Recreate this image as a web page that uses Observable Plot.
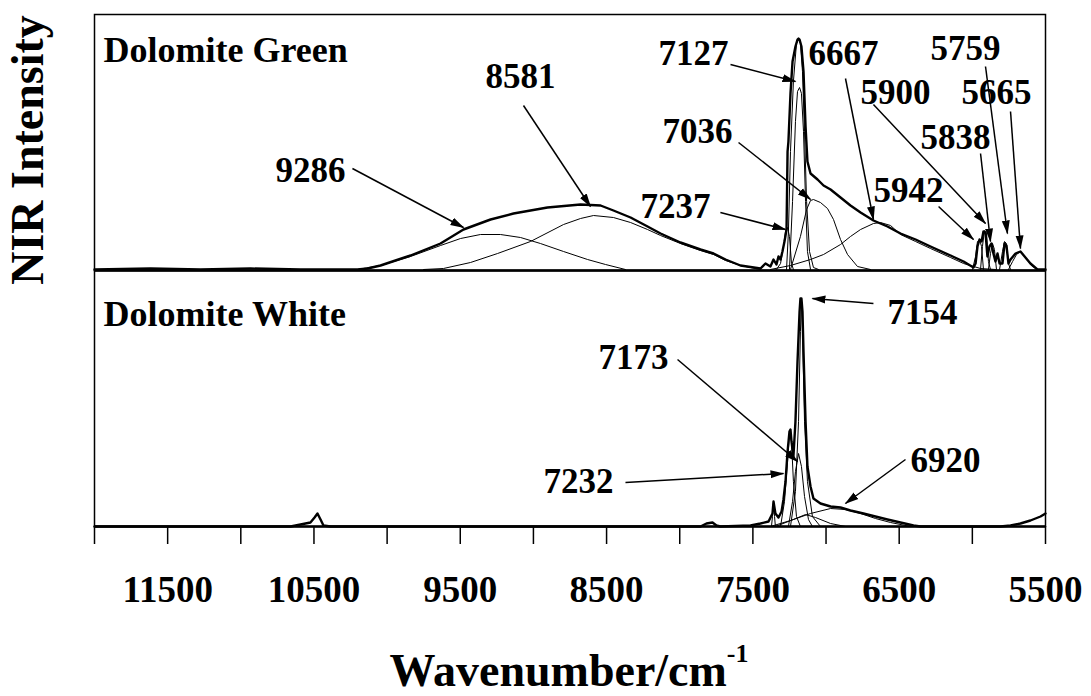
<!DOCTYPE html>
<html><head><meta charset="utf-8">
<script src="https://cdn.jsdelivr.net/npm/d3@7"></script>
<script src="https://cdn.jsdelivr.net/npm/@observablehq/plot@0.6"></script>
<style>
html,body{margin:0;padding:0;background:#fff;}
#chart{width:1091px;height:696px;}
</style></head><body><div id="chart"></div>
<script>
// ---------- axis ticks ----------
const tickValues = [12000, 11500, 11000, 10500, 10000, 9500, 9000, 8500, 8000, 7500, 7000, 6500, 6000, 5500];
const tickLabels = [11500, 10500, 9500, 8500, 7500, 6500, 5500];
const panels = ["Dolomite Green", "Dolomite White"];

// ---------- Dolomite Green: [wavenumber, intensity a.u.] ----------
const greenTotal = [[12000,1],[11617,2],[11275,1],[10934,2],[10592,1],[10202,1],[10134,2],[10045,5],[9943,10],[9840,15],[9635,27],[9478,41],[9293,51],[9136,57],[8904,63],[8678,66],[8541,65],[8453,60],[8336,53],[8220,44],[8131,37],[7995,28],[7858,21],[7769,17],[7687,11],[7585,5],[7448,2],[7414,7],[7380,4],[7359,11],[7339,6],[7325,14],[7311,11],[7298,19],[7284,29],[7270,41],[7263,119],[7257,129],[7243,177],[7229,209],[7209,224],[7195,231],[7188,232],[7181,231],[7168,224],[7154,199],[7140,144],[7127,109],[7106,97],[7058,91],[7017,85],[6969,81],[6901,73],[6833,65],[6764,58],[6676,50],[6580,44],[6491,37],[6388,31],[6286,24],[6149,15],[6060,9],[5992,3],[5978,7],[5965,24],[5951,31],[5937,29],[5924,39],[5910,38],[5897,14],[5883,24],[5869,27],[5856,17],[5842,9],[5828,17],[5814,7],[5794,7],[5780,27],[5767,25],[5753,7],[5739,11],[5705,17],[5671,19],[5637,13],[5603,7],[5555,1],[5500,1]];
const g9286 = [[10202,1],[10045,5],[9840,14],[9635,25],[9498,32],[9362,36],[9225,36],[9088,33],[8952,27],[8794,19],[8630,11],[8507,6],[8371,1]];
const g8581 = [[9751,1],[9615,2],[9430,8],[9245,17],[9020,29],[8794,46],[8678,52],[8589,55],[8453,53],[8336,48],[8220,41],[8131,35],[7995,27],[7858,20],[7769,16],[7687,10],[7585,5],[7448,1]];
const g7237 = [[7339,1],[7311,7],[7291,24],[7277,39],[7263,43],[7250,34],[7236,7],[7223,1]];
const g7127 = [[7270,1],[7257,39],[7243,119],[7223,189],[7202,227],[7188,231],[7175,227],[7161,199],[7147,139],[7133,69],[7113,19],[7086,3],[7051,1]];
const g7180 = [[7250,1],[7229,69],[7209,149],[7195,179],[7181,183],[7168,177],[7154,139],[7140,69],[7127,19],[7106,1]];
const g7036 = [[7243,1],[7175,34],[7133,61],[7106,70],[7086,71],[7038,68],[6990,62],[6949,51],[6901,31],[6853,16],[6785,4],[6696,1]];
const g6667 = [[7380,1],[7243,5],[7106,11],[7017,16],[6901,26],[6833,34],[6764,41],[6676,47],[6628,48],[6559,45],[6491,36],[6388,29],[6286,22],[6149,13],[6060,7],[5944,2],[5842,1]];
const g5942 = [[5999,1],[5978,14],[5965,29],[5951,31],[5937,24],[5924,1]];
const g5900 = [[5944,1],[5931,24],[5917,40],[5903,37],[5890,9],[5876,1]];
const g5838 = [[5890,1],[5876,17],[5862,27],[5849,21],[5835,1]];
const g5759 = [[5814,1],[5794,19],[5780,29],[5767,27],[5753,7],[5739,1]];
const g5665 = [[5753,1],[5725,9],[5698,16],[5671,19],[5637,13],[5596,5],[5555,1]];

// ---------- Dolomite White ----------
const whiteTotal = [[12000,0],[10660,0],[10592,2],[10524,4],[10496,9],[10476,13],[10455,7],[10435,1],[10387,0],[7858,0],[7817,3],[7776,4],[7749,1],[7722,0],[7516,1],[7448,3],[7393,5],[7366,13],[7359,25],[7346,13],[7325,9],[7304,15],[7291,27],[7277,45],[7263,75],[7250,95],[7243,97],[7236,85],[7223,70],[7209,105],[7195,165],[7181,215],[7175,228],[7168,228],[7161,215],[7154,175],[7140,105],[7127,60],[7106,40],[7086,28],[7038,23],[6969,20],[6901,19],[6833,16],[6744,13],[6662,10],[6580,7],[6491,4],[6402,1],[6354,0],[5808,0],[5739,1],[5671,3],[5603,6],[5534,10],[5500,13]];
const w7154 = [[7243,0],[7209,35],[7188,105],[7175,195],[7168,228],[7161,195],[7147,105],[7127,45],[7093,10],[7038,0]];
const w7173 = [[7257,0],[7229,25],[7209,55],[7188,73],[7168,60],[7147,30],[7120,7],[7093,0]];
const w7232 = [[7311,0],[7284,25],[7263,65],[7250,93],[7236,85],[7223,45],[7202,10],[7175,0]];
const w7360 = [[7373,0],[7366,10],[7359,25],[7352,10],[7346,0]];
const w6920 = [[7380,0],[7243,6],[7106,13],[6969,18],[6867,17],[6764,13],[6662,8],[6559,4],[6423,0]];
const w7100 = [[7346,0],[7223,7],[7140,12],[7072,9],[6969,3],[6867,0]];

// ---------- annotations: label, text position, arrow start -> tip ----------
const greenNotes = [
  ["9286", 10524, 100, 10237, 102, 9478, 43],
  ["8581", 9088, 194, 9068, 165, 8610, 64],
  ["7127", 7906, 217, 7653, 206, 7209, 189],
  ["6667", 6881, 217, 6867, 192, 6676, 51],
  ["7036", 7878, 139, 7598, 128, 7106, 71],
  ["7237", 8029, 64, 7722, 58, 7277, 41],
  ["5900", 6525, 178, 6676, 166, 5910, 47],
  ["5942", 6436, 80, 6231, 64, 5992, 31],
  ["5759", 6047, 222, 5910, 204, 5760, 37],
  ["5665", 5835, 178, 5739, 159, 5671, 22],
  ["5838", 6115, 133, 5944, 117, 5876, 29]
];
const whiteNotes = [
  ["7154", 6341, 214, 6676, 223, 7093, 228],
  ["7173", 8316, 169, 8015, 167, 7195, 65],
  ["7232", 8692, 45, 8371, 44, 7291, 53],
  ["6920", 6183, 66, 6457, 67, 6867, 23]
];
const panelLabels = [["Dolomite Green", 11938, 220], ["Dolomite White", 11938, 212]];

// ---------- build tables ----------
function rows(panel, id, pts) { return pts.map(([w, I]) => ({panel, id, w, I})); }
const totals = [...rows(panels[0], "total", greenTotal), ...rows(panels[1], "total", whiteTotal)];
const comps = [
  ...rows(panels[0], "9286", g9286), ...rows(panels[0], "8581", g8581), ...rows(panels[0], "7237", g7237),
  ...rows(panels[0], "7127", g7127), ...rows(panels[0], "7180", g7180), ...rows(panels[0], "7036", g7036),
  ...rows(panels[0], "6667", g6667), ...rows(panels[0], "5942", g5942), ...rows(panels[0], "5900", g5900),
  ...rows(panels[0], "5838", g5838), ...rows(panels[0], "5759", g5759), ...rows(panels[0], "5665", g5665),
  ...rows(panels[1], "7154", w7154), ...rows(panels[1], "7173", w7173), ...rows(panels[1], "7232", w7232),
  ...rows(panels[1], "7360", w7360), ...rows(panels[1], "6920", w6920), ...rows(panels[1], "7100", w7100)
];
const notes = [
  ...greenNotes.map(([label, tx, ty, x1, y1, x2, y2]) => ({panel: panels[0], label, tx, ty, x1, y1, x2, y2})),
  ...whiteNotes.map(([label, tx, ty, x1, y1, x2, y2]) => ({panel: panels[1], label, tx, ty, x1, y1, x2, y2}))
];
const labels = panelLabels.map(([text, x, y]) => ({panel: text, text, x, y}));

const font = "'Liberation Serif', 'Times New Roman', serif";
const plot = Plot.plot({
  width: 1091, height: 696,
  marginLeft: 94, marginRight: 46, marginTop: 13, marginBottom: 170,
  x: {domain: [12000, 5500]},
  y: {domain: [0, 256], axis: null},
  fy: {domain: panels, axis: null, padding: 0},
  style: {fontFamily: font, fontWeight: "bold", background: "white", color: "black", overflow: "visible"},
  marks: [
    Plot.frame({stroke: "black", strokeWidth: 1.5}),
    Plot.ruleY([0], {stroke: "black", strokeWidth: 2.5}),
    Plot.line(comps, {x: "w", y: "I", z: "id", fy: "panel", stroke: "black", strokeWidth: 1}),
    Plot.line(totals, {x: "w", y: "I", z: "id", fy: "panel", stroke: "black", strokeWidth: 2.4}),
    Plot.link(notes, {x1: "x1", y1: "y1", x2: "x2", y2: "y2", fy: "panel", stroke: "black", strokeWidth: 1.5, markerEnd: "arrow"}),
    Plot.text(notes, {x: "tx", y: "ty", text: "label", fy: "panel", fontSize: 35, fontWeight: "bold", fill: "black", lineAnchor: "middle"}),
    Plot.text(labels, {x: "x", y: "y", text: "text", fy: "panel", fontSize: 36, fontWeight: "bold", fill: "black", textAnchor: "start", lineAnchor: "middle"}),
    Plot.axisX({ticks: tickValues, tickSize: 18, tickFormat: () => "", strokeWidth: 1.5, label: null}),
    Plot.axisX({ticks: tickLabels, tickSize: 0, tickPadding: 49, tickFormat: "d", fontSize: 37, fontWeight: "bold", fill: "black", label: null})
  ]
});

const svg = d3.select(plot);
// filled arrowheads
svg.selectAll("marker").each(function () {
  const m = d3.select(this);
  m.attr("viewBox", "-13 -5 15 10").attr("markerWidth", 15).attr("markerHeight", 10)
   .attr("markerUnits", "userSpaceOnUse").attr("fill", "black").attr("stroke", "none");
  m.selectAll("*").remove();
  m.append("path").attr("d", "M-13,-4L1,0L-13,4Z");
});
// axis titles
svg.append("text")
  .attr("transform", "translate(43,150) rotate(-90)")
  .attr("text-anchor", "middle")
  .style("font", `bold 46px ${font}`)
  .attr("fill", "black")
  .text("NIR Intensity");
const xt = svg.append("text")
  .attr("x", 569).attr("y", 686)
  .attr("text-anchor", "middle")
  .style("font", `bold 46px ${font}`)
  .attr("fill", "black");
xt.append("tspan").text("Wavenumber/cm");
xt.append("tspan").attr("dy", -24).style("font-size", "26px").text("-1");

document.getElementById("chart").appendChild(plot);
</script>
</body></html>
